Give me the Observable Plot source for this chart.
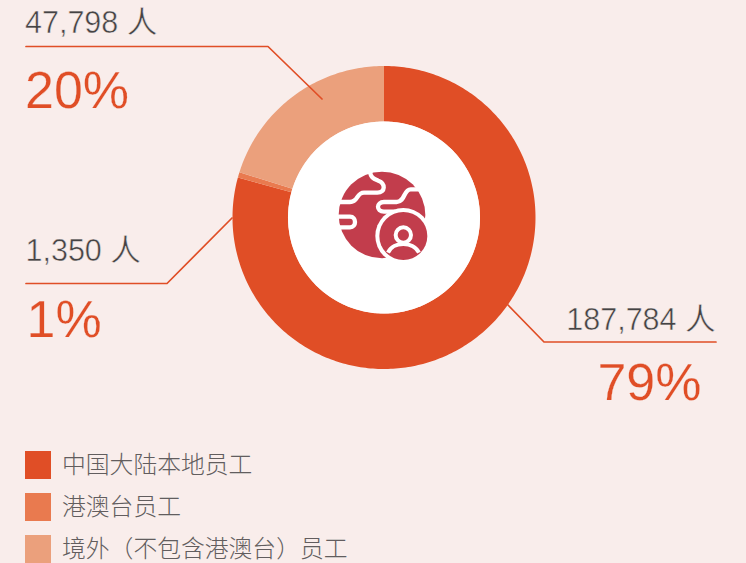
<!DOCTYPE html>
<html lang="zh">
<head>
<meta charset="utf-8">
<script src="https://cdn.jsdelivr.net/npm/d3@7"></script>
<script src="https://cdn.jsdelivr.net/npm/@observablehq/plot@0.6"></script>
<style>
  html, body { margin: 0; padding: 0; background: #F9EDEB; overflow: hidden; }
  #chart svg { display: block; background: #F9EDEB; }
  #legend { position: absolute; left: 25px; top: 451px; }
  .row { display: flex; align-items: center; height: 28px; margin-bottom: 14px; }
  .sw { width: 26px; height: 28px; margin-right: 11px; }
  .lb { font: 300 23.8px "Noto Sans CJK SC", sans-serif; color: #625d5e; white-space: nowrap; line-height: 28px; position: relative; top: -2px; }
</style>
</head>
<body>
<div id="chart"></div>
<div id="legend"></div>
<script>
// Data
const categories = ["中国大陆本地员工", "港澳台员工", "境外(不包含港澳台)员工"];
const legendLabels = ["中国大陆本地员工", "港澳台员工", "境外（不包含港澳台）员工"];
const headcounts = [187784, 1350, 47798];
const percents = [79, 1, 20];
const colors = ["#E04E26", "#E97A4F", "#EBA07C"];

// Layout (page pixels)
const width = 746, height = 443;
const cx = 383.5, cy = 217, rOuter = 151.5, rInner = 96;
const countAnchor = [[715, 329, "end"], [25, 260.5, "start"], [24.5, 32, "start"]];
const percentAnchor = [[701, 399, "end"], [26, 336, "start"], [24.5, 107.5, "start"]];
const leaders = [
  [[507.5, 304.5], [543.5, 341.5], [715.5, 341.5]],
  [[231.5, 217.5], [166.5, 283], [25.5, 283]],
  [[321.5, 98.5], [267.5, 46], [25.5, 46]]
];

// Ring slices from the values
const pie = d3.pie().sort(null).value(d => d)(headcounts);
const slicePoints = pie.flatMap((s, i) => {
  const n = Math.max(4, Math.ceil((s.endAngle - s.startAngle) * 60));
  const angles = d3.range(n + 1).map(k => s.startAngle + (s.endAngle - s.startAngle) * k / n);
  const ring = [
    ...angles.map(a => [a, rOuter]),
    ...angles.slice().reverse().map(a => [a, rInner])
  ];
  return ring.map(([a, r]) => ({
    category: categories[i],
    x: cx + r * Math.sin(a),
    y: cy - r * Math.cos(a)
  }));
});

const labels = headcounts.map((v, i) => ({
  count: d3.format(",")(v) + " 人",
  percent: percents[i] + "%",
  cx: countAnchor[i][0], cy: countAnchor[i][1], ca: countAnchor[i][2],
  px: percentAnchor[i][0], py: percentAnchor[i][1], pa: percentAnchor[i][2]
}));

// Centre icon
function icon() {
  const g = d3.create("svg:g").attr("transform", "translate(320,150) scale(0.3333)");
  const red = "#C23D4C";
  g.append("circle").attr("cx", 186).attr("cy", 195).attr("r", 130).attr("fill", red);
  const curves = [
    "M150,60 C150,85 165,88 175,92 C197,100 197,128 172,128 L132,128 C108,128 116,156 90,156 L45,156",
    "M310,118 L272,118 C250,118 256,156 230,156 L192,156 C168,156 168,185 192,185 L225,185",
    "M45,200 L90,200 C110,200 110,232 90,232 L50,232"
  ];
  for (const d of curves) g.append("path").attr("d", d).attr("fill", "none")
    .attr("stroke", "#fff").attr("stroke-width", 13).attr("stroke-linecap", "round");
  g.append("circle").attr("cx", 250).attr("cy", 258).attr("r", 84).attr("fill", "#fff");
  g.append("circle").attr("cx", 250).attr("cy", 258).attr("r", 72).attr("fill", red);
  g.append("circle").attr("cx", 250).attr("cy", 255).attr("r", 23).attr("fill", red)
    .attr("stroke", "#fff").attr("stroke-width", 12);
  g.append("path").attr("d", "M204,308 C212,290 232,282 250,282 C268,282 288,290 297,308")
    .attr("fill", "none").attr("stroke", "#fff").attr("stroke-width", 12);
  return g.node();
}

const textFont = '"Liberation Sans", "Noto Sans CJK SC", sans-serif';
const labelMarks = ["start", "end"].flatMap(anchor => [
  Plot.text(labels.filter(d => d.ca === anchor), {
    x: "cx", y: "cy", text: "count", textAnchor: anchor, lineAnchor: "bottom",
    fontSize: 30.5, fill: "#454344", stroke: "#F9EDEB", strokeWidth: 0.5, paintOrder: "markers"
  }),
  Plot.text(labels.filter(d => d.pa === anchor), {
    x: "px", y: "py", text: "percent", textAnchor: anchor, lineAnchor: "bottom",
    fontSize: 52, fill: "#E04E26", stroke: "#F9EDEB", strokeWidth: 0.25, paintOrder: "markers"
  })
]);

const plot = Plot.plot({
  width, height,
  margin: 0,
  style: { background: "#F9EDEB", fontFamily: textFont },
  x: { domain: [0, width], range: [0, width], axis: null },
  y: { domain: [0, height], range: [0, height], axis: null },
  color: { domain: categories, range: colors },
  marks: [
    Plot.line(slicePoints, { x: "x", y: "y", z: "category", fill: "category", stroke: null, curve: "linear-closed" }),
    Plot.dot([{ x: cx, y: cy }], { x: "x", y: "y", r: rInner, fill: "#fff", stroke: null }),
    icon,
    ...leaders.map(pts => Plot.line(pts, { stroke: "#E04E26", strokeWidth: 1.7 })),
    ...labelMarks
  ]
});
document.getElementById("chart").append(plot);

// Legend
const legend = d3.select("#legend");
legendLabels.forEach((t, i) => {
  const row = legend.append("div").attr("class", "row");
  row.append("div").attr("class", "sw").style("background", colors[i]);
  row.append("div").attr("class", "lb").text(t);
});
</script>
</body>
</html>
